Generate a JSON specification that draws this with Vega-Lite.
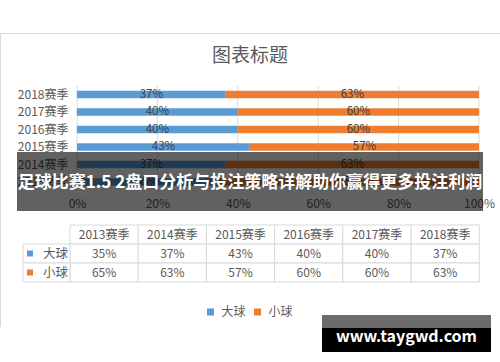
{
  "$schema": "https://vega.github.io/schema/vega-lite/v6.json",
  "width": 500,
  "height": 362,
  "autosize": "none",
  "padding": 0,
  "background": "white",
  "config": {
    "view": {"stroke": null},
    "font": "Noto Sans CJK SC",
    "text": {"font": "Noto Sans CJK SC"},
    "axis": {"labelFont": "Noto Sans CJK SC"},
    "legend": {"labelFont": "Noto Sans CJK SC"}
  },
  "title": {
    "text": "图表标题",
    "offset": -75,
    "baseline": "middle",
    "fontSize": 19,
    "fontWeight": "normal",
    "color": "#595959",
    "font": "Noto Sans CJK SC",
    "anchor": "middle",
    "frame": "group"
  },
  "datasets": {
    "seasons": [
      {"season": "2013赛季", "series": "大球", "value": 0.35},
      {"season": "2013赛季", "series": "小球", "value": 0.65},
      {"season": "2014赛季", "series": "大球", "value": 0.37},
      {"season": "2014赛季", "series": "小球", "value": 0.63},
      {"season": "2015赛季", "series": "大球", "value": 0.43},
      {"season": "2015赛季", "series": "小球", "value": 0.57},
      {"season": "2016赛季", "series": "大球", "value": 0.40},
      {"season": "2016赛季", "series": "小球", "value": 0.60},
      {"season": "2017赛季", "series": "大球", "value": 0.40},
      {"season": "2017赛季", "series": "小球", "value": 0.60},
      {"season": "2018赛季", "series": "大球", "value": 0.37},
      {"season": "2018赛季", "series": "小球", "value": 0.63}
    ],
    "ticks": [{"tick": 0}, {"tick": 0.2}, {"tick": 0.4}, {"tick": 0.6}, {"tick": 0.8}, {"tick": 1}],
    "banner": [{"text": "足球比赛1.5 2盘口分析与投注策略详解助你赢得更多投注利润"}],
    "watermark": [{"text": "www.taygwd.com"}],
    "blank": [{}]
  },
  "layer": [
    {
      "data": {"name": "blank"},
      "layer": [
        {
          "mark": {"type": "rule", "color": "#d9d9d9", "strokeWidth": 1},
          "encoding": {
            "x": {"datum": 0, "type": "quantitative", "scale": {"domain": [0, 1], "range": [0.5, 500], "nice": false}, "axis": null},
            "x2": {"datum": 1},
            "y": {"datum": 0, "type": "quantitative", "scale": {"domain": [0, 1], "range": [33.5, 327], "nice": false}, "axis": null}
          }
        },
        {
          "mark": {"type": "rule", "color": "#d9d9d9", "strokeWidth": 1},
          "encoding": {
            "x": {"datum": 0, "type": "quantitative", "scale": {"domain": [0, 1], "range": [0.5, 500], "nice": false}, "axis": null},
            "y": {"datum": 0, "type": "quantitative", "scale": {"domain": [0, 1], "range": [33.5, 327], "nice": false}, "axis": null},
            "y2": {"datum": 1}
          }
        }
      ]
    },
    {
      "data": {"name": "seasons"},
      "layer": [
        {
          "data": {"name": "ticks"},
          "mark": {"type": "rule", "color": "#d9d9d9", "strokeWidth": 1},
          "encoding": {
            "x": {"field": "tick", "type": "quantitative", "scale": {"domain": [0, 1], "range": [77, 479], "nice": false}, "axis": null},
            "y": {"datum": 0, "type": "quantitative", "scale": {"domain": [0, 1], "range": [85.75, 190.75], "nice": false}, "axis": null},
            "y2": {"datum": 1}
          }
        },
        {
          "mark": {"type": "bar"},
          "encoding": {
            "y": {
              "field": "season", "type": "nominal",
              "scale": {"domain": ["2018赛季", "2017赛季", "2016赛季", "2015赛季", "2014赛季", "2013赛季"], "range": [85.75, 190.75], "paddingInner": 0.58, "paddingOuter": 0.29},
              "axis": {"orient": "left", "offset": -77, "title": null, "domain": false, "ticks": false, "grid": false, "labelPadding": 9, "labelFontSize": 12, "labelColor": "#595959"}
            },
            "x": {
              "field": "value", "type": "quantitative", "stack": "zero",
              "scale": {"domain": [0, 1], "range": [77, 479], "nice": false},
              "axis": {"orient": "bottom", "offset": -171.25, "title": null, "format": ".0%", "values": [0, 0.2, 0.4, 0.6, 0.8, 1], "grid": false, "domain": false, "ticks": false, "labelPadding": 8, "labelFlush": false, "labelOverlap": false, "labelFontSize": 12, "labelColor": "#595959"}
            },
            "color": {
              "field": "series", "type": "nominal",
              "scale": {"domain": ["大球", "小球"], "range": ["#5b9bd5", "#ed7d31"]},
              "legend": {"orient": "none", "legendX": 204.5, "legendY": 306, "direction": "horizontal", "title": null, "symbolType": "square", "symbolSize": 49, "symbolStrokeWidth": 0, "labelFontSize": 12, "labelColor": "#595959", "labelOffset": 5, "columnPadding": 5, "padding": 0}
            }
          }
        },
        {
          "transform": [{"filter": "datum.series === '大球'"}],
          "mark": {"type": "text", "fontSize": 11.5, "color": "#404040", "baseline": "middle"},
          "encoding": {
            "x": {"field": "value", "type": "quantitative", "scale": {"domain": [0, 1], "range": [77, 278], "nice": false}, "axis": null},
            "y": {"field": "season", "type": "nominal", "scale": {"domain": ["2018赛季", "2017赛季", "2016赛季", "2015赛季", "2014赛季", "2013赛季"], "range": [85.75, 190.75], "paddingInner": 0.58, "paddingOuter": 0.29}, "axis": null},
            "text": {"field": "value", "type": "quantitative", "format": ".0%"}
          }
        },
        {
          "transform": [{"filter": "datum.series === '小球'"}],
          "mark": {"type": "text", "fontSize": 11.5, "color": "#404040", "baseline": "middle"},
          "encoding": {
            "x": {"field": "value", "type": "quantitative", "scale": {"domain": [0, 1], "range": [479, 278], "nice": false}, "axis": null},
            "y": {"field": "season", "type": "nominal", "scale": {"domain": ["2018赛季", "2017赛季", "2016赛季", "2015赛季", "2014赛季", "2013赛季"], "range": [85.75, 190.75], "paddingInner": 0.58, "paddingOuter": 0.29}, "axis": null},
            "text": {"field": "value", "type": "quantitative", "format": ".0%"}
          }
        }
      ],
      "resolve": {"scale": {"x": "independent", "y": "independent"}}
    },
    {
      "data": {"name": "seasons"},
      "layer": [
        {
          "transform": [{"filter": "datum.series === '大球'"}],
          "mark": {"type": "rect", "fill": "white", "stroke": "#d9d9d9", "strokeWidth": 1},
          "encoding": {
            "x": {"field": "season", "type": "nominal", "scale": {"domain": ["2013赛季", "2014赛季", "2015赛季", "2016赛季", "2017赛季", "2018赛季"], "range": [70, 479.3], "paddingInner": 0, "paddingOuter": 0}, "axis": null},
            "y": {"datum": "header", "type": "nominal", "scale": {"domain": ["header", "大球", "小球"], "range": [225, 282], "paddingInner": 0, "paddingOuter": 0}, "axis": null}
          }
        },
        {
          "transform": [{"filter": "datum.series === '大球'"}],
          "mark": {"type": "text", "fontSize": 12, "color": "#595959", "baseline": "middle"},
          "encoding": {
            "x": {"field": "season", "type": "nominal", "scale": {"domain": ["2013赛季", "2014赛季", "2015赛季", "2016赛季", "2017赛季", "2018赛季"], "range": [70, 479.3], "paddingInner": 0, "paddingOuter": 0}, "axis": null},
            "y": {"datum": "header", "type": "nominal", "scale": {"domain": ["header", "大球", "小球"], "range": [225, 282], "paddingInner": 0, "paddingOuter": 0}, "axis": null},
            "text": {"field": "season", "type": "nominal"}
          }
        },
        {
          "mark": {"type": "rect", "fill": "white", "stroke": "#d9d9d9", "strokeWidth": 1},
          "encoding": {
            "x": {"field": "season", "type": "nominal", "scale": {"domain": ["2013赛季", "2014赛季", "2015赛季", "2016赛季", "2017赛季", "2018赛季"], "range": [70, 479.3], "paddingInner": 0, "paddingOuter": 0}, "axis": null},
            "y": {"field": "series", "type": "nominal", "scale": {"domain": ["header", "大球", "小球"], "range": [225, 282], "paddingInner": 0, "paddingOuter": 0}, "axis": null}
          }
        },
        {
          "mark": {"type": "text", "fontSize": 12, "color": "#595959", "baseline": "middle"},
          "encoding": {
            "x": {"field": "season", "type": "nominal", "scale": {"domain": ["2013赛季", "2014赛季", "2015赛季", "2016赛季", "2017赛季", "2018赛季"], "range": [70, 479.3], "paddingInner": 0, "paddingOuter": 0}, "axis": null},
            "y": {"field": "series", "type": "nominal", "scale": {"domain": ["header", "大球", "小球"], "range": [225, 282], "paddingInner": 0, "paddingOuter": 0}, "axis": null},
            "text": {"field": "value", "type": "quantitative", "format": ".0%"}
          }
        },
        {
          "transform": [{"filter": "datum.season === '2013赛季'"}],
          "mark": {"type": "rect", "fill": "white", "stroke": "#d9d9d9", "strokeWidth": 1},
          "encoding": {
            "x": {"datum": "key", "type": "nominal", "scale": {"domain": ["key"], "range": [23, 70], "paddingInner": 0, "paddingOuter": 0}, "axis": null},
            "y": {"field": "series", "type": "nominal", "scale": {"domain": ["header", "大球", "小球"], "range": [225, 282], "paddingInner": 0, "paddingOuter": 0}, "axis": null}
          }
        },
        {
          "transform": [{"filter": "datum.season === '2013赛季'"}],
          "mark": {"type": "point", "shape": "square", "filled": true, "size": 36, "opacity": 1, "xOffset": -16.5},
          "encoding": {
            "x": {"datum": "key", "type": "nominal", "scale": {"domain": ["key"], "range": [23, 70], "paddingInner": 0, "paddingOuter": 0}, "axis": null},
            "y": {"field": "series", "type": "nominal", "scale": {"domain": ["header", "大球", "小球"], "range": [225, 282], "paddingInner": 0, "paddingOuter": 0}, "axis": null},
            "color": {"field": "series", "type": "nominal", "legend": null}
          }
        },
        {
          "transform": [{"filter": "datum.season === '2013赛季'"}],
          "mark": {"type": "text", "fontSize": 12.5, "color": "#595959", "baseline": "middle", "xOffset": 9},
          "encoding": {
            "x": {"datum": "key", "type": "nominal", "scale": {"domain": ["key"], "range": [23, 70], "paddingInner": 0, "paddingOuter": 0}, "axis": null},
            "y": {"field": "series", "type": "nominal", "scale": {"domain": ["header", "大球", "小球"], "range": [225, 282], "paddingInner": 0, "paddingOuter": 0}, "axis": null},
            "text": {"field": "series", "type": "nominal"}
          }
        }
      ],
      "resolve": {"scale": {"x": "independent", "y": "independent"}}
    },
    {
      "data": {"name": "banner"},
      "layer": [
        {
          "mark": {"type": "rect", "color": "black", "opacity": 0.62},
          "encoding": {
            "x": {"datum": 0, "type": "quantitative", "scale": {"domain": [0, 1], "range": [17, 483], "nice": false}, "axis": null},
            "x2": {"datum": 1},
            "y": {"datum": 0, "type": "quantitative", "scale": {"domain": [0, 1], "range": [152, 211], "nice": false}, "axis": null},
            "y2": {"datum": 1}
          }
        },
        {
          "mark": {"type": "text", "color": "white", "fontSize": 17, "fontWeight": "bold", "baseline": "middle"},
          "encoding": {
            "x": {"datum": 0.5, "type": "quantitative", "scale": {"domain": [0, 1], "range": [17, 483], "nice": false}, "axis": null},
            "y": {"datum": 0.525, "type": "quantitative", "scale": {"domain": [0, 1], "range": [152, 211], "nice": false}, "axis": null},
            "text": {"field": "text", "type": "nominal"}
          }
        }
      ]
    },
    {
      "data": {"name": "watermark"},
      "layer": [
        {
          "mark": {"type": "rect", "color": "#6b6b6b", "opacity": 1},
          "encoding": {
            "x": {"datum": 0, "type": "quantitative", "scale": {"domain": [0, 1], "range": [322, 491], "nice": false}, "axis": null},
            "x2": {"datum": 1},
            "y": {"datum": 0, "type": "quantitative", "scale": {"domain": [0, 1], "range": [315, 352], "nice": false}, "axis": null},
            "y2": {"datum": 0.35}
          }
        },
        {
          "mark": {"type": "rect", "color": "black", "opacity": 1},
          "encoding": {
            "x": {"datum": 0, "type": "quantitative", "scale": {"domain": [0, 1], "range": [322, 491], "nice": false}, "axis": null},
            "x2": {"datum": 1},
            "y": {"datum": 0.35, "type": "quantitative", "scale": {"domain": [0, 1], "range": [315, 352], "nice": false}, "axis": null},
            "y2": {"datum": 1}
          }
        },
        {
          "mark": {"type": "text", "color": "white", "fontSize": 16, "fontWeight": "bold", "baseline": "middle"},
          "encoding": {
            "x": {"datum": 0.5, "type": "quantitative", "scale": {"domain": [0, 1], "range": [322, 491], "nice": false}, "axis": null},
            "y": {"datum": 0.6, "type": "quantitative", "scale": {"domain": [0, 1], "range": [315, 352], "nice": false}, "axis": null},
            "text": {"field": "text", "type": "nominal"}
          }
        }
      ]
    }
  ],
  "resolve": {"scale": {"x": "independent", "y": "independent"}}
}
